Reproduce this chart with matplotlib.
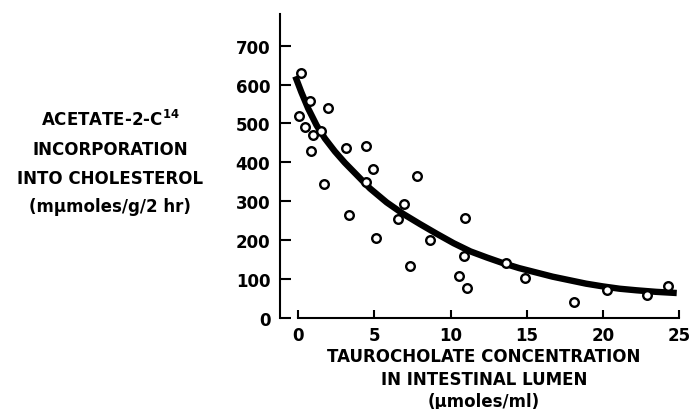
import matplotlib
matplotlib.use("Agg")
import matplotlib.pyplot as plt

# measured points (taurocholate umol/ml, acetate incorporation)
conc = [0.15, 0.05, 0.77, 0.46, 0.99, 0.83, 1.49, 1.97, 1.71, 3.11, 3.33, 4.47,
        4.9, 4.47, 5.08, 6.96, 6.53, 7.81, 7.31, 8.65, 10.95, 10.9, 10.53, 11.07,
        13.64, 14.9, 18.1, 20.3, 22.9, 24.25]
incorp = [630, 520, 557, 492, 470, 428, 481, 539, 343, 437, 265, 442,
          384, 350, 205, 292, 255, 365, 133, 200, 256, 160, 108, 78,
          141, 103, 40, 73, 60, 82]

# hand-drawn curve
curve_x = [-0.2, 0.2, 0.65, 1.2, 1.75, 2.4, 3.05, 3.8, 4.7, 5.8, 6.9, 8.0,
           9.1, 10.2, 11.3, 12.4, 13.5, 14.5, 15.6, 16.7, 17.8, 18.9, 20.0,
           21.1, 22.2, 23.5, 24.85]
curve_y = [621, 580, 538, 495, 461, 428, 399, 369, 333, 297, 267, 241,
           216, 192, 171, 155, 140, 128, 117, 106, 97, 88, 81,
           75, 71, 67, 64]

xticks = [0, 5, 10, 15, 20, 25]
yticks = [0, 100, 200, 300, 400, 500, 600, 700]

plt.rcParams["font.family"] = "DejaVu Sans"
plt.rcParams["font.weight"] = "bold"
plt.rcParams["mathtext.default"] = "bf"

fig = plt.figure(figsize=(6.91, 4.10), dpi=100)
ax = fig.add_axes([0.4009, 0.2032, 0.595, 0.759])

ax.plot(curve_x, curve_y, color="black", lw=4.6, solid_capstyle="butt",
        solid_joinstyle="round", zorder=2)
ax.plot(conc, incorp, "o", ms=6.2, mfc="white", mec="black", mew=1.7, zorder=3)

ax.set_xlim(-1.4, 25.6)
ax.set_ylim(-20, 780)

for s in ["top", "right"]:
    ax.spines[s].set_visible(False)
ax.spines["left"].set_position(("data", -1.2))
ax.spines["left"].set_bounds(0, 780)
ax.spines["bottom"].set_position(("data", 0))
ax.spines["bottom"].set_bounds(0, 25)
ax.spines["left"].set_linewidth(1.5)
ax.spines["bottom"].set_linewidth(1.5)

ax.set_xticks(xticks)
ax.set_yticks(yticks)
ax.tick_params(axis="x", direction="in", length=6, width=1.5, pad=6, labelsize=12)
ax.tick_params(axis="y", direction="in", length=8, width=1.5, pad=7, labelsize=12)

fs = 12
fig.text(0.70, 1 - 357 / 410, "TAUROCHOLATE CONCENTRATION", ha="center", va="center", fontsize=fs)
fig.text(0.70, 1 - 380 / 410, "IN INTESTINAL LUMEN", ha="center", va="center", fontsize=fs)
fig.text(0.70, 1 - 402 / 410, "(\u03bcmoles/ml)", ha="center", va="center", fontsize=fs)

ylab = ["ACETATE-2-C$^{14}$", "INCORPORATION", "INTO CHOLESTEROL", "(m\u03bcmoles/g/2 hr)"]
ylab_y = [120, 150, 179, 207]
for t, yy in zip(ylab, ylab_y):
    fig.text(110 / 691, 1 - yy / 410, t, ha="center", va="center", fontsize=fs)

fig.savefig("out.png", dpi=100)
